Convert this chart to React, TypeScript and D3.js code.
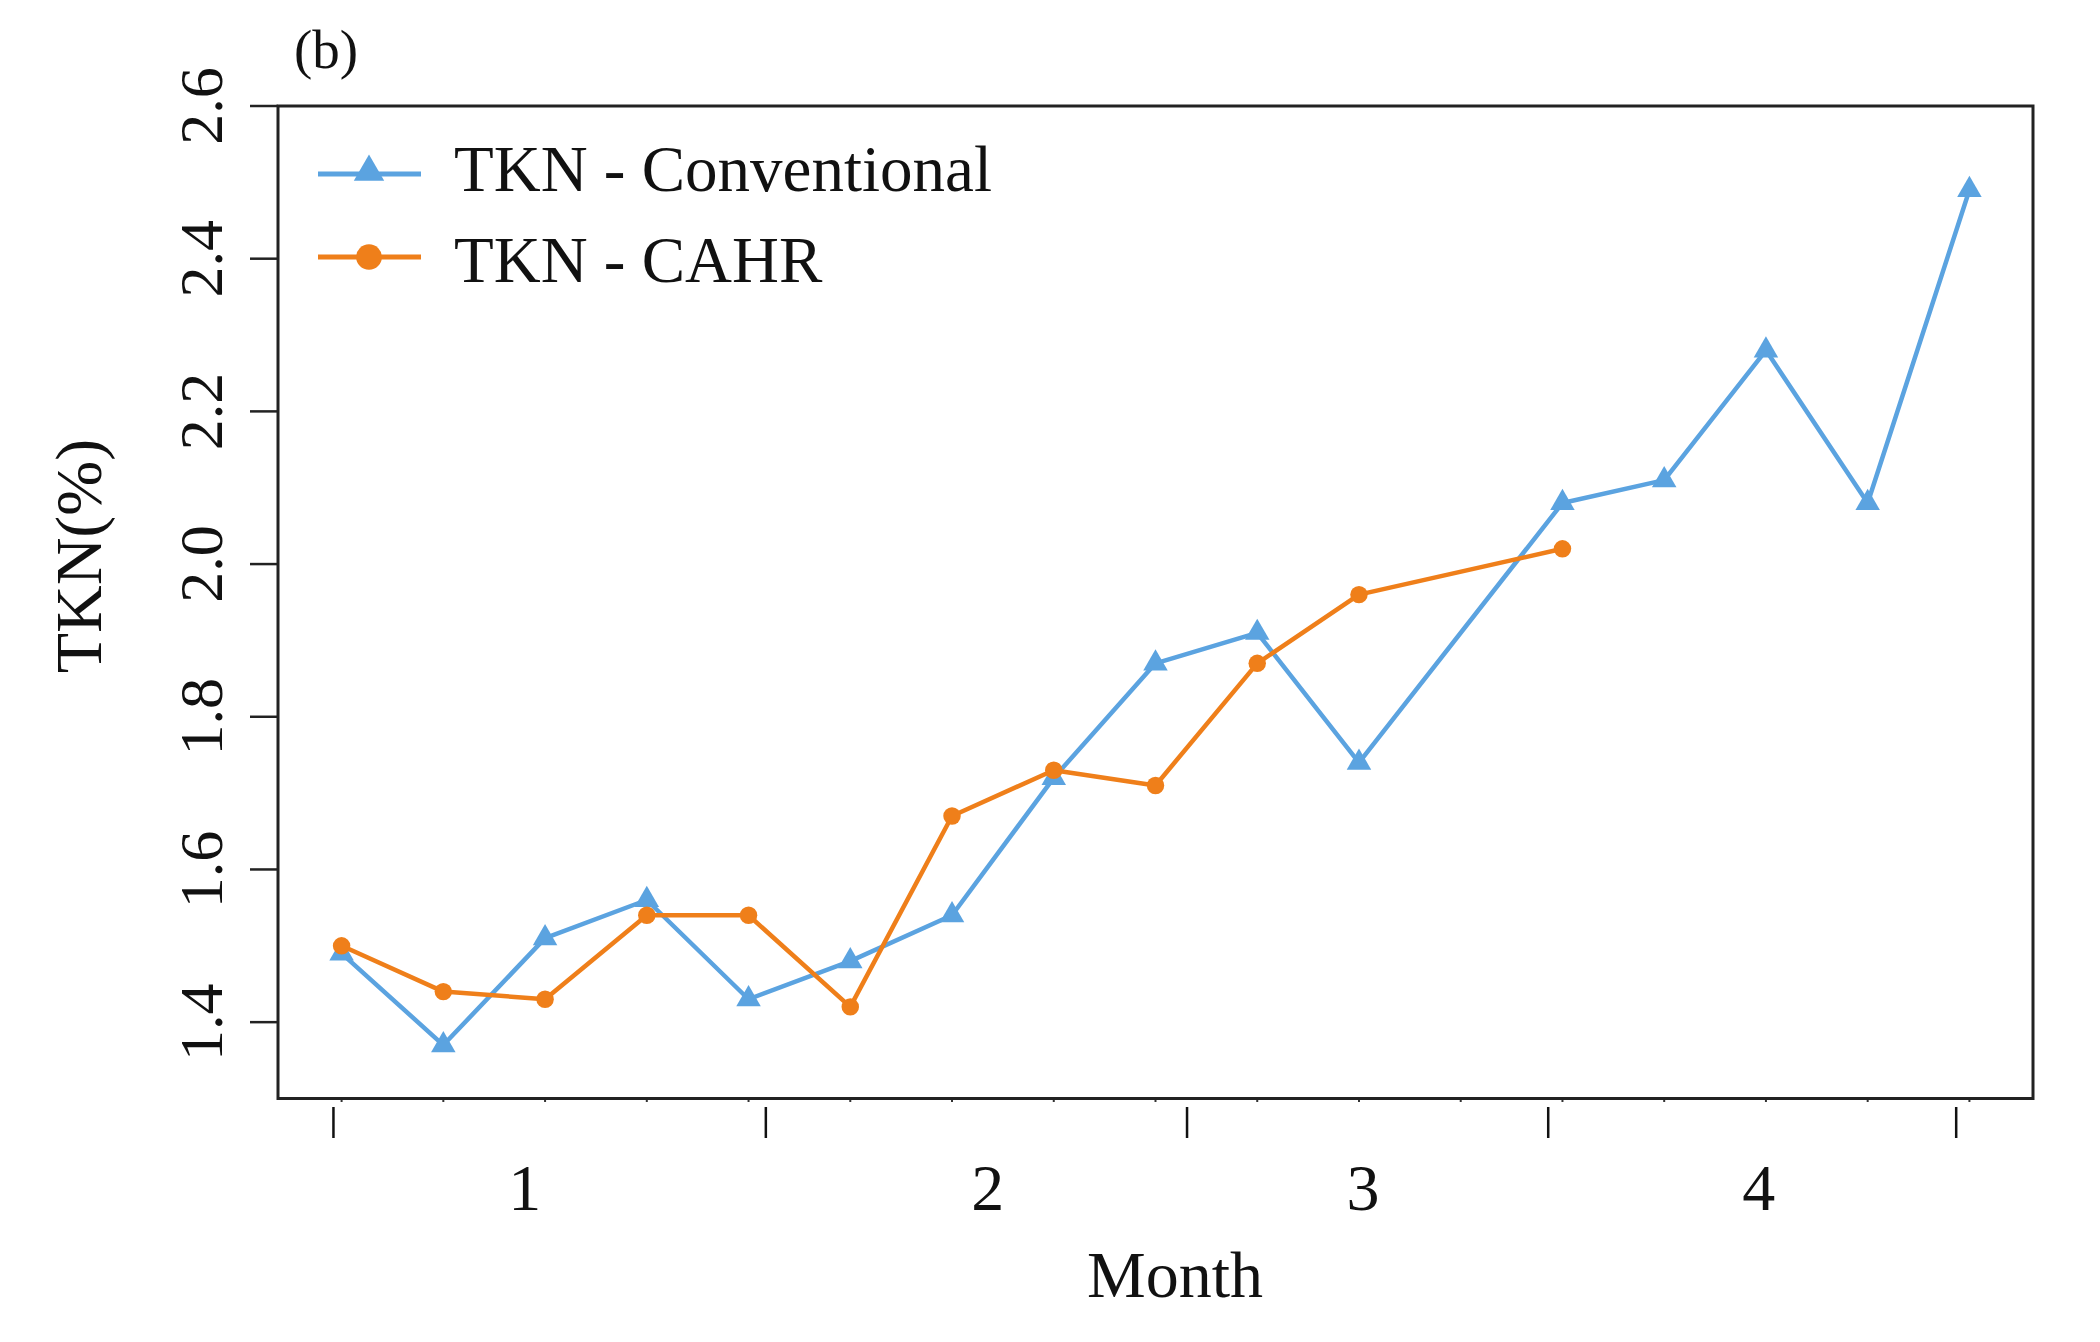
import React from "react";
import * as d3 from "d3";

// ---- data ----
// sampling index along the x axis (17 sampling slots, slot 11 empty)
const sampleIndex: number[] = [0, 1, 2, 3, 4, 5, 6, 7, 8, 9, 10, 11, 12, 13, 14, 15, 16];
const tknConventional: (number | null)[] = [1.49, 1.37, 1.51, 1.56, 1.43, 1.48, 1.54, 1.72, 1.87, 1.91, 1.74, null, 2.08, 2.11, 2.28, 2.08, 2.49];
const tknCAHR: (number | null)[] = [1.5, 1.44, 1.43, 1.54, 1.54, 1.42, 1.67, 1.73, 1.71, 1.87, 1.96, null, 2.02, null, null, null, null];
const monthLabels: string[] = ["1", "2", "3", "4"];
const monthLabelAt: number[] = [1.8, 6.35, 10.04, 13.93];
const monthBoundaries: number[] = [-0.08, 4.17, 8.31, 11.86, 15.87];
const yTicks: number[] = [1.4, 1.6, 1.8, 2.0, 2.2, 2.4, 2.6];
const seriesNames: string[] = ["TKN - Conventional", "TKN - CAHR"];

const BLUE = "#5BA3E0";
const ORANGE = "#EF7F1A";
const FONT = "'Liberation Serif', 'Times New Roman', serif";

export default function App() {
  const W = 2100, H = 1342;
  const left = 278, right = 2033, top = 106, bottom = 1098.5;

  const x = d3.scaleLinear().domain([-0.625, 16.625]).range([left, right]);
  const y = d3.scaleLinear().domain([1.3, 2.6]).range([bottom, top]);

  const pts = (vals: (number | null)[]) =>
    sampleIndex
      .map((k, i) => ({ k, v: vals[i] }))
      .filter((d) => d.v !== null) as { k: number; v: number }[];

  const line = d3
    .line<{ k: number; v: number }>()
    .x((d) => x(d.k))
    .y((d) => y(d.v));

  const tri = d3.symbol().type(d3.symbolTriangle).size(260)() as string;
  const circ = d3.symbol().type(d3.symbolCircle).size(240)() as string;
  const triL = d3.symbol().type(d3.symbolTriangle).size(400)() as string;
  const circL = d3.symbol().type(d3.symbolCircle).size(520)() as string;

  const conv = pts(tknConventional);
  const cahr = pts(tknCAHR);

  return (
    <svg
      width={W}
      height={H}
      style={{ position: "absolute", left: 0, top: 0, background: "#fff" }}
      fontFamily={FONT}
    >
      <rect x={0} y={0} width={W} height={H} fill="#fff" />

      {/* panel label */}
      <text x={294} y={68} fontSize={55} fill="#111">(b)</text>

      {/* y ticks */}
      {yTicks.map((t) => (
        <g key={t}>
          <line x1={250} x2={left} y1={y(t)} y2={y(t)} stroke="#222" strokeWidth={2.5} />
          <text
            transform={`translate(222,${y(t)}) rotate(-90)`}
            textAnchor="middle"
            fontSize={62}
            fill="#111"
          >
            {t.toFixed(1)}
          </text>
        </g>
      ))}

      {/* y axis title */}
      <text
        transform={`translate(101,556) rotate(-90)`}
        textAnchor="middle"
        fontSize={66}
        fill="#111"
      >
        TKN(%)
      </text>

      {/* small ticks at each sampling slot */}
      {sampleIndex.map((k) => (
        <line key={k} x1={x(k)} x2={x(k)} y1={bottom} y2={bottom + 3.5} stroke="#333" strokeWidth={2} />
      ))}

      {/* month separators */}
      {monthBoundaries.map((b, i) => (
        <line key={i} x1={x(b)} x2={x(b)} y1={1107} y2={1138} stroke="#111" strokeWidth={2.5} />
      ))}
      {monthLabels.map((m, i) => (
        <text key={m} x={x(monthLabelAt[i])} y={1210} textAnchor="middle" fontSize={66} fill="#111">
          {m}
        </text>
      ))}
      <text x={1175} y={1297} textAnchor="middle" fontSize={66} fill="#111">
        Month
      </text>

      {/* series */}
      <path d={line(conv) as string} fill="none" stroke={BLUE} strokeWidth={4.5} strokeLinejoin="round" />
      {conv.map((d) => (
        <path key={"c" + d.k} d={tri} transform={`translate(${x(d.k)},${y(d.v)})`} fill={BLUE} />
      ))}
      <path d={line(cahr) as string} fill="none" stroke={ORANGE} strokeWidth={4.5} strokeLinejoin="round" />
      {cahr.map((d) => (
        <path key={"o" + d.k} d={circ} transform={`translate(${x(d.k)},${y(d.v)})`} fill={ORANGE} />
      ))}

      {/* frame */}
      <rect x={left} y={top} width={right - left} height={bottom - top} fill="none" stroke="#222" strokeWidth={3} />

      {/* legend */}
      <g>
        <line x1={318} x2={421} y1={174} y2={174} stroke={BLUE} strokeWidth={5} />
        <path d={triL} transform="translate(369,172)" fill={BLUE} />
        <text x={454} y={191} fontSize={65} fill="#111">{seriesNames[0]}</text>
        <line x1={318} x2={421} y1={257} y2={257} stroke={ORANGE} strokeWidth={5} />
        <path d={circL} transform="translate(369,257)" fill={ORANGE} />
        <text x={454} y={282} fontSize={65} fill="#111">{seriesNames[1]}</text>
      </g>
    </svg>
  );
}
